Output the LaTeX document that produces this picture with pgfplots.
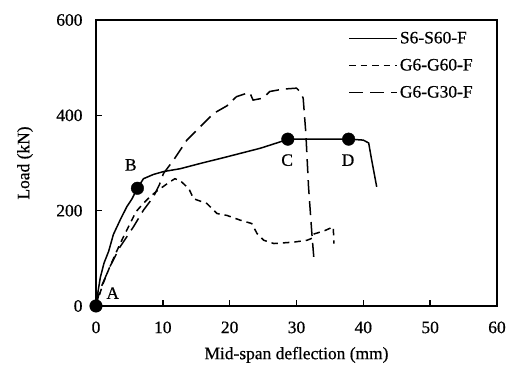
\documentclass[border=0pt]{standalone}
\usepackage{fontspec}
\setmainfont{Liberation Serif}[FakeBold=0.6]
\usepackage{pgfplots}
\pgfplotsset{compat=1.18}
\begin{document}
\begin{tikzpicture}
\begin{axis}[
  scale only axis, width=401bp, height=286bp,
  xmin=0, xmax=60, ymin=0, ymax=600,
  xtick={0,10,...,60}, ytick={0,200,400,600},
  tick align=inside, xtick pos=left, ytick pos=left,
  major tick length=6bp,
  font=\fontsize{17.5}{20}\selectfont,
  /pgf/number format/assume math mode=true,
  xticklabel style={yshift=-12bp},
  yticklabel style={xshift=-10bp},
  xlabel={Mid-span deflection (mm)},
  ylabel={Load (kN)},
  xlabel style={at={(axis description cs:0.5,-0.171)}, anchor=center},
  ylabel style={at={(axis description cs:-0.177,0.5)}, anchor=center},
  axis line style={line width=1.4bp},
  every tick/.style={line width=1.4bp, black},
  clip=false,
  legend style={draw=none, fill=none, at={(axis cs:37.3,584)}, anchor=north west,
    row sep=10bp, font=\fontsize{17.5}{20}\selectfont},
  legend cell align=left,
  legend image code/.code={\draw[#1] (0bp,0bp) -- (48bp,0bp);},
]
\addplot[black, line width=1.5bp] coordinates {
(0,0) (0.3,30) (0.65,60) (1.2,90) (1.9,115) (2.6,150) (3.6,180) (4.6,208) (5.4,225) (6.1,245)
(7.1,267) (8.6,276) (10.1,282) (12.6,288) (15.6,299) (19.6,313) (24.6,331) (28.6,349)
(29.5,350) (38,350) (40,348) (40.8,342) (41.2,310) (41.6,280) (42,250)};
\addlegendentry{S6-S60-F}
\addplot[black, line width=1.5bp, dash pattern=on 6.5bp off 5bp] coordinates {
(0,0) (1,45) (2,80) (3,112) (4,142) (5,170) (6,198) (7,214) (8,228) (9,240) (10,250)
(11,260) (11.8,267) (12.6,263) (13.9,246) (14.6,225) (16.6,215) (18.1,194) (19.6,190)
(21.6,180) (23.3,173) (24.1,152) (25.1,138) (26.6,131) (29.6,134) (31.6,138) (32.3,142)
(32.4,150) (33.5,155) (34.2,158) (35.5,166) (35.6,131)};
\addlegendentry{G6-G60-F}
\addplot[black, line width=1.5bp, dash pattern=on 14bp off 7bp] coordinates {
(0,0) (0.6,34) (2.1,83) (3.6,124) (5.6,166) (7.1,201) (8.6,229) (9.5,255) (10.1,278)
(11.6,306) (13.6,348) (15.6,376) (17.6,404) (19.6,420) (21,439) (22.5,446) (23,448)
(23.5,432) (25,436) (26,450) (28,455) (30,457) (30.5,450) (31,436) (31.4,362) (31.8,250)
(32.3,152) (32.6,100)};
\addlegendentry{G6-G30-F}
\addplot[only marks, mark=*, mark size=6.3bp, black, forget plot] coordinates {
(0,0) (6.2,247) (28.7,350) (37.8,350)};
\node at (axis cs:2.5,27) {A};
\node at (axis cs:5.2,296) {B};
\node at (axis cs:28.6,306) {C};
\node at (axis cs:37.7,306) {D};
\end{axis}
\pgfresetboundingbox
\path ([xshift=-96bp,yshift=-77bp]current axis.south west) rectangle ([xshift=12bp,yshift=20bp]current axis.north east);
\end{tikzpicture}
\end{document}
